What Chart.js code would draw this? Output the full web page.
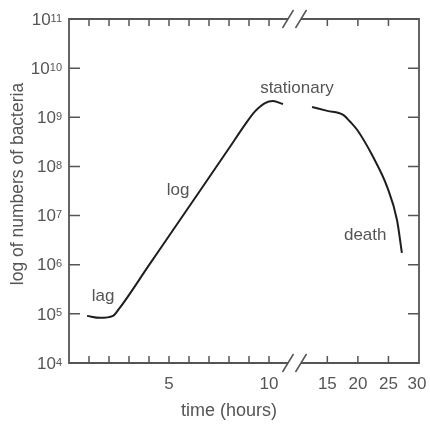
<!DOCTYPE html>
<html>
<head>
<meta charset="utf-8">
<title>Bacterial growth curve</title>
<script src="https://cdn.jsdelivr.net/npm/chart.js@4/dist/chart.umd.min.js"></script>
<style>
  html, body { margin: 0; padding: 0; background: #fff; }
  canvas { display: block; }
</style>
</head>
<body>
<canvas id="growthChart" width="430" height="424"></canvas>
<script>
// ---- DATA (time in hours, number of bacteria) ----
const growthHours  = [0.9, 1.55, 2.2, 2.5, 4.0, 6.0, 8.0, 8.8, 9.3, 9.8, 10.2, 10.7];
const growthCounts = [9.1e4, 8.3e4, 9.1e4, 1.26e5, 9.8e5, 1.51e7, 2.34e8, 7.1e8, 1.32e9, 1.95e9, 2.14e9, 1.86e9];

const declineHours  = [12.5, 15.0, 17.6, 18.7, 19.9, 22.5, 24.8, 26.4, 27.2];
const declineCounts = [1.62e9, 1.35e9, 1.12e9, 8.2e8, 5.5e8, 1.55e8, 3.8e7, 8.1e6, 1.74e6];

// ---- AXES ----
const xTickHours  = [1, 2, 3, 4, 5, 6, 7, 8, 9, 10, 15, 20, 25];
const xLabelHours = [5, 10, 15, 20, 25, 30];
const yDecades    = [4, 5, 6, 7, 8, 9, 10, 11];
const breakHours  = [10.95, 11.6];

// ---- PHASE LABELS ----
const phaseNames  = ["lag", "log", "stationary", "death"];
const phaseHours  = [1.7, 5.45, 11.4, 21.2];
const phaseCounts = [2.3e5, 3.3e7, 3.8e9, 4.0e6];

// broken time axis: 1 unit per hour up to 12 h, compressed after that
const KNEE = 12, TAIL = 5.5 / 18;
function toAxis(h) {
  return h <= KNEE ? h : KNEE + (h - KNEE) * TAIL;
}

function toPoints(hours, counts) {
  return hours.map((h, i) => ({ x: toAxis(h), y: counts[i] }));
}

const INK = "#555";
const FONT = "'Liberation Sans', Arial, sans-serif";

// ================================
// FRAME / TICKS / TEXT PLUGIN
// ================================
const framePlugin = {
  id: "frame",
  afterDraw(chart) {
    const ctx = chart.ctx;
    const xs = chart.scales.x, ys = chart.scales.y;
    const a = chart.chartArea;
    const bx = breakHours.map(h => xs.getPixelForValue(toAxis(h)));

    ctx.save();
    ctx.strokeStyle = INK;
    ctx.lineWidth = 1.8;
    ctx.lineCap = "butt";

    // frame with gaps at the break
    ctx.beginPath();
    ctx.moveTo(a.left, a.top); ctx.lineTo(a.left, a.bottom);
    ctx.moveTo(a.right, a.top); ctx.lineTo(a.right, a.bottom);
    [a.top, a.bottom].forEach(y => {
      ctx.moveTo(a.left - 0.9, y); ctx.lineTo(bx[0], y);
      ctx.moveTo(bx[1], y); ctx.lineTo(a.right + 0.9, y);
    });
    ctx.stroke();

    // break slashes
    ctx.lineWidth = 1.5;
    ctx.beginPath();
    [a.top, a.bottom].forEach(y => {
      bx.forEach(x => {
        ctx.moveTo(x - 5.5, y + 9);
        ctx.lineTo(x + 5.5, y - 9);
      });
    });
    ctx.stroke();

    // inward ticks
    ctx.beginPath();
    xTickHours.forEach(h => {
      const x = xs.getPixelForValue(toAxis(h));
      ctx.moveTo(x, a.bottom); ctx.lineTo(x, a.bottom - 7);
      ctx.moveTo(x, a.top); ctx.lineTo(x, a.top + 7);
    });
    yDecades.slice(1, -1).forEach(d => {
      const y = ys.getPixelForValue(Math.pow(10, d));
      ctx.moveTo(a.left, y); ctx.lineTo(a.left + 11, y);
      ctx.moveTo(a.right, y); ctx.lineTo(a.right - 11, y);
    });
    ctx.stroke();

    ctx.fillStyle = INK;

    // y labels 10^n
    yDecades.forEach(d => {
      const y = ys.getPixelForValue(Math.pow(10, d));
      const exp = String(d);
      ctx.font = "11px " + FONT;
      const we = ctx.measureText(exp).width;
      ctx.font = "17px " + FONT;
      const wb = ctx.measureText("10").width;
      const right = a.left - 7;
      ctx.textAlign = "left";
      ctx.textBaseline = "middle";
      ctx.fillText("10", right - we - wb, y + 1);
      ctx.font = "11px " + FONT;
      ctx.textBaseline = "top";
      ctx.fillText(exp, right - we, y - 6);
    });

    // x labels
    ctx.font = "17px " + FONT;
    ctx.textAlign = "center";
    ctx.textBaseline = "middle";
    xLabelHours.forEach(h => {
      const x = xs.getPixelForValue(toAxis(h));
      ctx.fillText(String(h), Math.min(x, a.right - 2), a.bottom + 21);
    });

    // phase labels
    phaseNames.forEach((name, i) => {
      const x = xs.getPixelForValue(toAxis(phaseHours[i]));
      const y = ys.getPixelForValue(phaseCounts[i]);
      ctx.fillText(name, x, y);
    });

    // axis titles
    ctx.font = "18px " + FONT;
    ctx.fillText("time (hours)", 229, 411);
    ctx.save();
    ctx.translate(18, 184);
    ctx.rotate(-Math.PI / 2);
    ctx.font = "17.5px " + FONT;
    ctx.fillText("log of numbers of bacteria", 0, 0);
    ctx.restore();

    ctx.restore();
  }
};

// ================================
// CHART
// ================================
const lineStyle = {
  borderColor: "#1e1e1e",
  borderWidth: 2,
  pointRadius: 0,
  cubicInterpolationMode: "monotone",
  fill: false
};

new Chart(document.getElementById("growthChart"), {
  type: "line",
  data: {
    datasets: [
      { label: "growth", data: toPoints(growthHours, growthCounts), ...lineStyle },
      { label: "decline", data: toPoints(declineHours, declineCounts), ...lineStyle }
    ]
  },
  options: {
    responsive: false,
    animation: false,
    layout: { padding: { left: 69, right: 11, top: 19, bottom: 61 } },
    scales: {
      x: { type: "linear", min: 0, max: toAxis(30), display: false },
      y: { type: "logarithmic", min: 1e4, max: 1e11, display: false }
    },
    plugins: {
      legend: { display: false },
      tooltip: { enabled: false }
    }
  },
  plugins: [framePlugin]
});
</script>
</body>
</html>
